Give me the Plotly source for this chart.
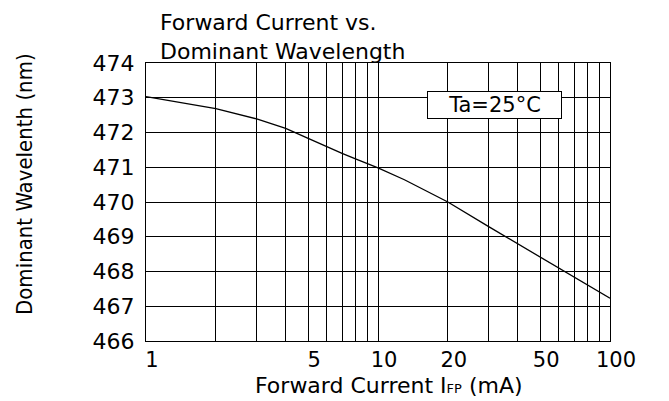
import plotly.graph_objects as go

# Data
current_ma = [1, 2, 3, 4, 5, 6, 7, 8, 9, 10, 13, 20, 30, 40, 50, 60, 70, 80, 90, 100]
wavelength_nm = [473.03, 472.69, 472.39, 472.12, 471.83, 471.59, 471.40, 471.24, 471.10,
                 470.98, 470.64, 470.00, 469.29, 468.80, 468.42, 468.11, 467.84, 467.61,
                 467.41, 467.23]

x_grid_vals = [1, 2, 3, 4, 5, 6, 7, 8, 9, 10, 20, 30, 40, 50, 60, 70, 80, 90, 100]
x_tick_text = ['1', '', '', '', '5', '', '', '', '', '10', '20', '', '', '50', '', '', '', '', '100']
y_ticks = [466, 467, 468, 469, 470, 471, 472, 473, 474]

title_text = "Forward Current vs.<br>Dominant Wavelength"
x_title = "Forward Current I<span style='font-size:13px'>FP</span> (mA)"
y_title = "Dominant Wavelenth (nm)"
note_text = "Ta=25°C"

FONT = "DejaVu Sans"

# plot area in page pixels (reference): x 146..610, y 63..341
PX0, PX1, PY0, PY1 = 146, 610, 63, 341
def px(x):
    return (x - PX0) / (PX1 - PX0)
def py(y):
    return (PY1 - y) / (PY1 - PY0)

fig = go.Figure()
fig.add_trace(go.Scatter(
    x=current_ma, y=wavelength_nm, mode="lines",
    line=dict(color="black", width=1.3), showlegend=False, hoverinfo="skip"))

# the page body has an 8px margin, so the figure is offset by 8px
fig.update_layout(
    width=661, height=393,
    margin=dict(l=138, r=59, t=55, b=60, autoexpand=False),
    paper_bgcolor="white", plot_bgcolor="white",
    font=dict(family=FONT, color="black"),
)

fig.update_xaxes(
    type="log", range=[0, 2],
    tickmode="array", tickvals=x_grid_vals, ticktext=x_tick_text,
    showgrid=True, gridcolor="black", gridwidth=1,
    showline=True, linecolor="black", linewidth=1, mirror=True,
    zeroline=False, ticks="", ticklabelshift=6, ticklabelstandoff=0,
    tickfont=dict(family=FONT, size=21, color="black"),
)
fig.update_yaxes(
    range=[466, 474], tickmode="array", tickvals=y_ticks,
    showgrid=True, gridcolor="black", gridwidth=1,
    showline=True, linecolor="black", linewidth=1, mirror=True,
    zeroline=False, ticks="", ticklabelstandoff=6,
    tickfont=dict(family=FONT, size=22, color="black"),
)

fig.add_annotation(
    text=title_text, xref="paper", yref="paper",
    x=px(158), y=py(37), xanchor="left", yanchor="middle", align="left",
    showarrow=False, font=dict(family=FONT, size=22, color="black"))

fig.add_annotation(
    text=note_text, xref="paper", yref="paper",
    x=px(494.5), y=py(105),
    xanchor="center", yanchor="middle", showarrow=False,
    width=131, height=24, bgcolor="white", bordercolor="black", borderwidth=1,
    font=dict(family=FONT, size=21, color="black"))

fig.add_annotation(
    text=x_title, xref="paper", yref="paper",
    x=px(389), y=py(385),
    xanchor="center", yanchor="middle", showarrow=False,
    font=dict(family=FONT, size=22, color="black"))

fig.add_annotation(
    text=y_title, xref="paper", yref="paper", textangle=-90,
    x=px(24), y=py(184),
    xanchor="center", yanchor="middle", showarrow=False,
    font=dict(family="DejaVu Sans Condensed, Liberation Sans Narrow", size=22, color="black"))

fig.write_html("out.html")
